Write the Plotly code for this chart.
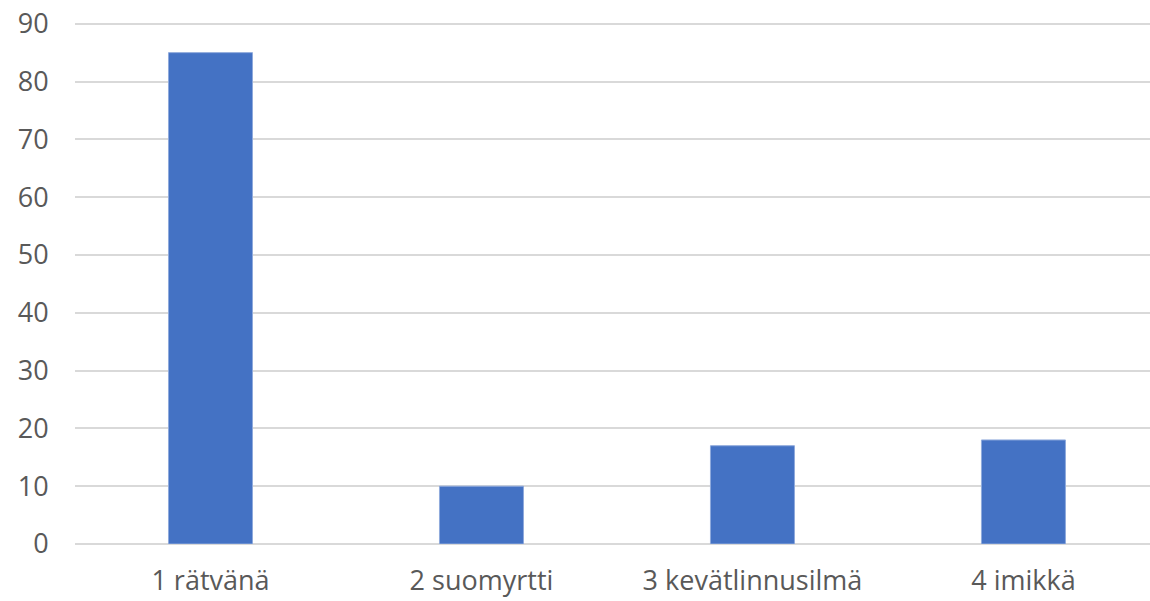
import plotly.graph_objects as go

categories = ["1 rätvänä", "2 suomyrtti", "3 kevätlinnusilmä", "4 imikkä"]
values = [85, 10, 17, 18]
y_ticks = [0, 10, 20, 30, 40, 50, 60, 70, 80, 90]

fig = go.Figure(go.Bar(
    x=categories, y=values,
    marker=dict(color="#4472C4", line=dict(color="#8FAADC", width=1)),
    width=0.31,
))

fig.update_layout(
    template="none",
    width=1150, height=601,
    margin=dict(l=75, r=0, t=22, b=57),
    plot_bgcolor="white", paper_bgcolor="white",
    font=dict(family="Open Sans", size=27, color="#595959"),
    showlegend=False,
)
fig.update_xaxes(
    automargin=False,
    range=[-0.5, 3.467],
    showgrid=False, showline=False, zeroline=False,
    ticks="outside", ticklen=13, tickcolor="rgba(0,0,0,0)",
    ticklabeloverflow="allow",
)
fig.update_yaxes(
    automargin=False,
    range=[0, 90.3], tickvals=y_ticks,
    showgrid=True, gridcolor="#D9D9D9", gridwidth=2,
    zeroline=True, zerolinecolor="#D9D9D9", zerolinewidth=2,
    ticks="outside", ticklen=20, tickcolor="rgba(0,0,0,0)",
    ticklabeloverflow="allow",
)

fig.write_html(
    "out.html",
    config={"displayModeBar": False},
    post_script="document.body.style.margin='0';document.body.style.overflow='hidden';",
)
